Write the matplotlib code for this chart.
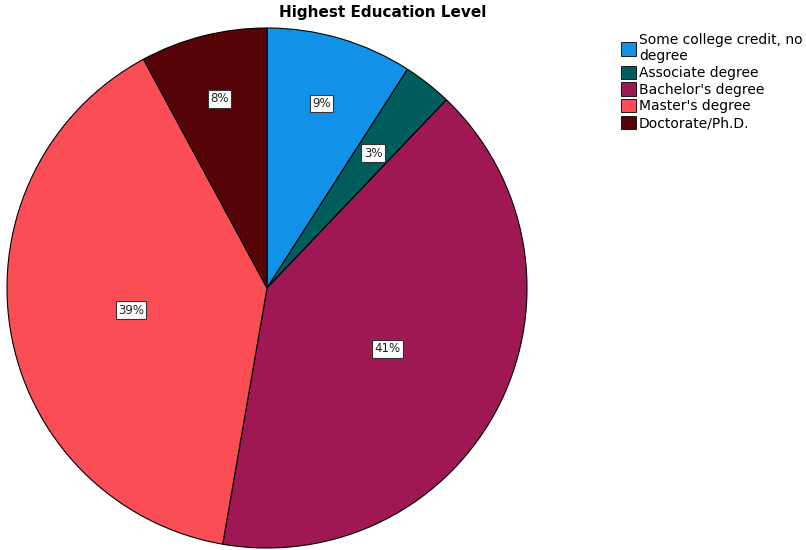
import matplotlib.pyplot as plt
import numpy as np

# respondent counts per education level
categories = ["Some college credit, no\ndegree", "Associate degree",
              "Bachelor's degree", "Master's degree", "Doctorate/Ph.D."]
counts = [15, 5, 67, 65, 13]

colors = ["#1192e8", "#005d5d", "#9f1853", "#fa4d56", "#570408"]
label_radius = [0.74, 0.66, 0.52, 0.53, 0.75]

plt.rcParams['font.family'] = ['DejaVu Sans']

fig = plt.figure(figsize=(8.06, 5.5), dpi=100)
W, H = 806, 550
cx, cy, R = 267, 288, 260
ax = fig.add_axes([(cx - R) / W, 1 - (cy + R) / H, 2 * R / W, 2 * R / H])

wedges, _ = ax.pie(counts, colors=colors, startangle=90, counterclock=False,
                   radius=1.0, wedgeprops=dict(edgecolor="black", linewidth=0.8))
ax.set_xlim(-1, 1)
ax.set_ylim(-1, 1)
ax.set_aspect('equal')

total = sum(counts)
for w, n, r in zip(wedges, counts, label_radius):
    mid = np.deg2rad((w.theta1 + w.theta2) / 2)
    ax.text(r * np.cos(mid), r * np.sin(mid), f"{n / total * 100:.0f}%",
            ha='center', va='center', fontsize=8.5, color='#222222',
            bbox=dict(boxstyle='square,pad=0.2', fc='white', ec='#333333', lw=0.8))

fig.text(383 / W, 1 - 13 / H, "Highest Education Level", ha='center', va='center',
         fontsize=11, fontweight='bold')

handles = [plt.Rectangle((0, 0), 1, 1, fc=c, ec='black', lw=0.6) for c in colors]
fig.legend(handles, categories, loc='upper left', bbox_to_anchor=(621 / W, 1 - 33 / H),
           frameon=False, fontsize=10, handlelength=1.1, handleheight=1.1,
           handletextpad=0.2, labelspacing=0.17, borderaxespad=0, borderpad=0)

fig.savefig("out.png", dpi=100)
